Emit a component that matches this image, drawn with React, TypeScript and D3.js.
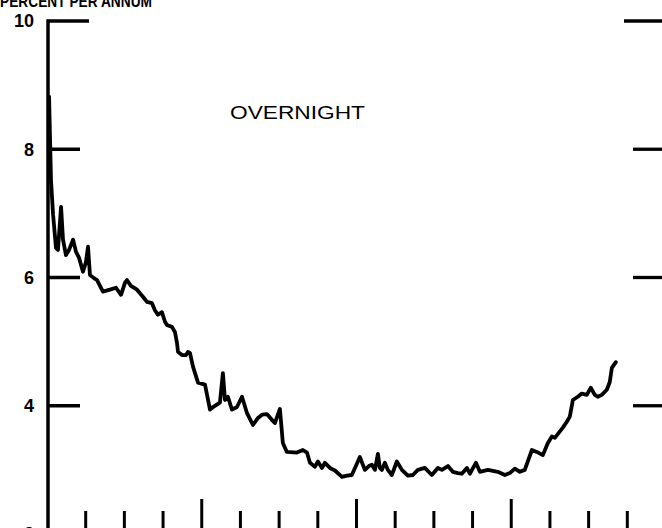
// @ts-nocheck
import { useRef, useEffect } from "react";
import * as d3 from "d3";

// months since start of the axis (4 years, quarterly ticks)
const months = [
  0.16, 0.31, 0.47, 0.7, 0.85, 1.09, 1.24, 1.47, 1.71, 2.02,
  2.25, 2.48, 2.79, 3.02, 3.18, 3.33, 3.64, 3.88, 4.34, 4.88,
  5.35, 5.74, 6.05, 6.2, 6.51, 6.98, 7.44, 7.75, 8.14, 8.37,
  8.6, 8.91, 9.15, 9.3, 9.69, 9.92, 10.08, 10.16, 10.47, 10.78,
  10.93, 11.09, 11.32, 11.71, 12.25, 12.64, 12.87, 13.41, 13.64, 13.8,
  14.03, 14.34, 14.73, 15.12, 15.5, 15.97, 16.36, 16.67, 17.05, 17.44,
  17.67, 18.06, 18.29, 18.6, 19.38, 19.84, 20.16, 20.39, 20.78, 21.01,
  21.32, 21.55, 21.94, 22.33, 22.87, 23.26, 23.64, 23.95, 24.26, 24.65,
  24.96, 25.19, 25.43, 25.66, 25.81, 25.97, 26.2, 26.43, 26.74, 27.13,
  27.52, 27.98, 28.37, 28.76, 29.3, 29.84, 30.31, 30.62, 31.09, 31.47,
  31.86, 32.17, 32.56, 32.79, 33.26, 33.57, 34.19, 34.96, 35.5, 35.89,
  36.28, 36.67, 37.05, 37.6, 37.98, 38.45, 38.84, 39.15, 39.38, 40.0,
  40.31, 40.54, 40.78, 41.16, 41.47, 41.86, 42.17, 42.48, 42.71, 43.02,
  43.41, 43.64, 43.8, 44.11,
];

// overnight rate, percent per annum
const rates = [
  8.82, 7.52, 6.98, 6.46, 6.43, 7.1, 6.59, 6.35, 6.43, 6.59,
  6.4, 6.31, 6.09, 6.24, 6.48, 6.04, 5.99, 5.96, 5.78, 5.81,
  5.84, 5.73, 5.92, 5.96, 5.87, 5.81, 5.7, 5.62, 5.6, 5.49,
  5.42, 5.46, 5.31, 5.26, 5.23, 5.15, 4.98, 4.84, 4.79, 4.79,
  4.84, 4.82, 4.61, 4.36, 4.33, 3.94, 3.98, 4.05, 4.51, 4.09,
  4.14, 3.94, 3.98, 4.14, 3.89, 3.7, 3.81, 3.86, 3.87, 3.78,
  3.73, 3.95, 3.42, 3.28, 3.27, 3.31, 3.27, 3.11, 3.05, 3.13,
  3.03, 3.11, 3.03, 2.99, 2.89, 2.91, 2.92, 3.06, 3.2, 3.0,
  3.06, 3.08, 3.0, 3.25, 3.03, 3.0, 3.11, 3.0, 2.92, 3.13,
  3.0, 2.91, 2.92, 3.0, 3.03, 2.92, 3.03, 3.0, 3.06, 2.97,
  2.95, 2.94, 3.03, 2.94, 3.11, 2.97, 3.0, 2.97, 2.92, 2.95,
  3.02, 2.97, 3.0, 3.31, 3.28, 3.23, 3.42, 3.52, 3.5, 3.66,
  3.75, 3.83, 4.09, 4.14, 4.19, 4.17, 4.28, 4.17, 4.14, 4.17,
  4.25, 4.37, 4.59, 4.68,
];

const yTicks = [10, 8, 6, 4, 2];
const xMinorTicks = [3, 6, 9, 15, 18, 21, 27, 30, 33, 39, 42, 45];
const xMajorTicks = [12, 24, 36];

const title = "PERCENT PER ANNUM";
const seriesLabel = "OVERNIGHT";

const App = () => {
  const svgRef = useRef();
  const width = 662;
  const height = 528;

  useEffect(() => {
    const svg = d3.select(svgRef.current);
    svg.selectAll("*").remove();

    const x = d3.scaleLinear().domain([0, 48]).range([47, 666]);
    const y = d3.scaleLinear().domain([2, 10]).range([534, 21]);

    const font = "'Liberation Sans', Arial, Helvetica, sans-serif";

    svg
      .append("rect")
      .attr("width", width)
      .attr("height", height)
      .attr("fill", "#fff");

    // title, mostly cut off at the top (as in the scan)
    svg
      .append("text")
      .attr("x", 0)
      .attr("y", 7)
      .attr("font-family", font)
      .attr("font-weight", "bold")
      .attr("font-size", 17)
      .attr("textLength", 152)
      .attr("lengthAdjust", "spacingAndGlyphs")
      .attr("fill", "#000")
      .text(title);

    // left axis line
    svg
      .append("line")
      .attr("x1", x(0) + 1)
      .attr("x2", x(0) + 1)
      .attr("y1", y(10) - 1.5)
      .attr("y2", height)
      .attr("stroke", "#000")
      .attr("stroke-width", 3.5);

    // left + right ticks
    yTicks.forEach((t) => {
      const long = t === 10;
      svg
        .append("line")
        .attr("x1", x(0))
        .attr("x2", long ? 89 : 80)
        .attr("y1", y(t))
        .attr("y2", y(t))
        .attr("stroke", "#000")
        .attr("stroke-width", 3.3);
      svg
        .append("line")
        .attr("x1", long ? 624 : 633)
        .attr("x2", width)
        .attr("y1", y(t))
        .attr("y2", y(t))
        .attr("stroke", "#000")
        .attr("stroke-width", 3.3);
      svg
        .append("text")
        .attr("x", 34)
        .attr("y", y(t))
        .attr("dy", "0.36em")
        .attr("text-anchor", "end")
        .attr("font-family", font)
        .attr("font-weight", "bold")
        .attr("font-size", 18)
        .attr("fill", "#000")
        .text(t);
    });

    // bottom ticks
    xMinorTicks.forEach((m) => {
      svg
        .append("line")
        .attr("x1", x(m))
        .attr("x2", x(m))
        .attr("y1", 511)
        .attr("y2", height)
        .attr("stroke", "#000")
        .attr("stroke-width", 3);
    });
    xMajorTicks.forEach((m) => {
      svg
        .append("line")
        .attr("x1", x(m))
        .attr("x2", x(m))
        .attr("y1", 499)
        .attr("y2", height)
        .attr("stroke", "#000")
        .attr("stroke-width", 3);
    });

    // series label
    svg
      .append("text")
      .attr("x", 230)
      .attr("y", 119)
      .attr("font-family", font)
      .attr("font-size", 18)
      .attr("textLength", 135)
      .attr("lengthAdjust", "spacingAndGlyphs")
      .attr("fill", "#000")
      .text(seriesLabel);

    const line = d3
      .line()
      .x((d) => x(d[0]))
      .y((d) => y(d[1]));

    svg
      .append("path")
      .datum(months.map((m, i) => [m, rates[i]]))
      .attr("d", line)
      .attr("fill", "none")
      .attr("stroke", "#000")
      .attr("stroke-width", 3.8)
      .attr("stroke-linejoin", "round")
      .attr("stroke-linecap", "round");
  }, []);

  return (
    <svg
      ref={svgRef}
      width={width}
      height={height}
      style={{ position: "absolute", left: 0, top: 0, display: "block" }}
    ></svg>
  );
};

export default App;
